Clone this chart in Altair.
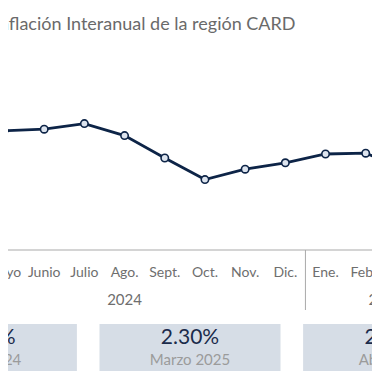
import altair as alt
import pandas as pd

# ---- data ----
title_text = "Inflación Interanual de la región CARD"
months = ["Abril", "Mayo", "Junio", "Julio", "Ago.", "Sept.", "Oct.", "Nov.", "Dic.",
          "Ene.", "Febr.", "Marzo", "Abril"]
years = ["2024"] * 9 + ["2025"] * 4
inflation = [2.84, 2.79, 2.81, 2.88, 2.73, 2.45, 2.18, 2.31, 2.39, 2.50, 2.51, 2.30, 2.21]
box_values = ["2.84%", "2.30%", "2.21%"]
box_labels = ["Abril 2024", "Marzo 2025", "Abril 2025"]

df = pd.DataFrame({"idx": list(range(len(months))), "month": months,
                   "year": years, "value": inflation})
sep_df = pd.DataFrame({"idx": [df[df.year == "2024"].idx.max() + 0.5]})
box_df = pd.DataFrame({"k": list(range(len(box_values))), "val": box_values, "lab": box_labels})
title_df = pd.DataFrame({"t": [title_text]})

FONT = "Lato"
NAVY = "#0d2447"
GRAY = "#6e6e6e"
W = 364
H = 364

xs = alt.Scale(domain=[1.0995, 10.1565], nice=False, zero=False)
ys = alt.Scale(domain=[-0.225, 4.325], nice=False, zero=False)
X = alt.X("idx:Q", scale=xs, axis=None)

base = alt.Chart(df)

line = base.mark_line(color=NAVY, strokeWidth=2.8).encode(
    x=X, y=alt.Y("value:Q", scale=ys, axis=None))
pts = base.mark_point(filled=True, fill="#dde4ee", stroke=NAVY, strokeWidth=1.6,
                      size=55, opacity=1).encode(
    x=X, y=alt.Y("value:Q", scale=ys, axis=None))

month_text = base.mark_text(font=FONT, fontSize=14, color=GRAY, baseline="middle").encode(
    x=X, y=alt.value(264.5), text="month:N")

year_text = base.transform_aggregate(
    idx="mean(idx)", groupby=["year"]
).mark_text(font=FONT, fontSize=15, color=GRAY, baseline="middle").encode(
    x=X, y=alt.value(292), text="year:N")

axis_line = alt.Chart(title_df).mark_rule(color="#a9a9a9", strokeWidth=1).encode(
    x=alt.value(0), x2=alt.value(W), y=alt.value(242))

sep = alt.Chart(sep_df).mark_rule(color="#a9a9a9", strokeWidth=1).encode(
    x=X, y=alt.value(242), y2=alt.value(302))

bs = alt.Scale(domain=[0.1061, 1.8939], nice=False, zero=False)
boxes = alt.Chart(box_df).transform_calculate(
    k0="datum.k - 0.4445", k1="datum.k + 0.4445"
).mark_rect(fill="#d6dde6").encode(
    x=alt.X("k0:Q", scale=bs, axis=None), x2="k1:Q",
    y=alt.value(316), y2=alt.value(363))
box_val = alt.Chart(box_df).mark_text(font=FONT, fontSize=21, color="#1b2b4b",
                                      baseline="middle").encode(
    x=alt.X("k:Q", scale=bs, axis=None), y=alt.value(330), text="val:N")
box_lab = alt.Chart(box_df).mark_text(font=FONT, fontSize=15, color="#9b9b9b",
                                      baseline="middle").encode(
    x=alt.X("k:Q", scale=bs, axis=None), y=alt.value(352), text="lab:N")

title = alt.Chart(title_df).mark_text(font=FONT, fontSize=18, color="#6a6a6a",
                                      align="left", baseline="middle").encode(
    x=alt.value(-14), y=alt.value(17), text="t:N")

chart = alt.layer(
    axis_line, sep, line, pts, month_text, year_text, boxes, box_val, box_lab, title
).resolve_scale(x="independent", y="independent").properties(
    width=W, height=H, autosize=alt.AutoSizeParams(type="none"), padding=0,
    background="white"
).configure_view(stroke=None)

chart.save("out.html", embed_options={"renderer": "svg", "actions": False})
